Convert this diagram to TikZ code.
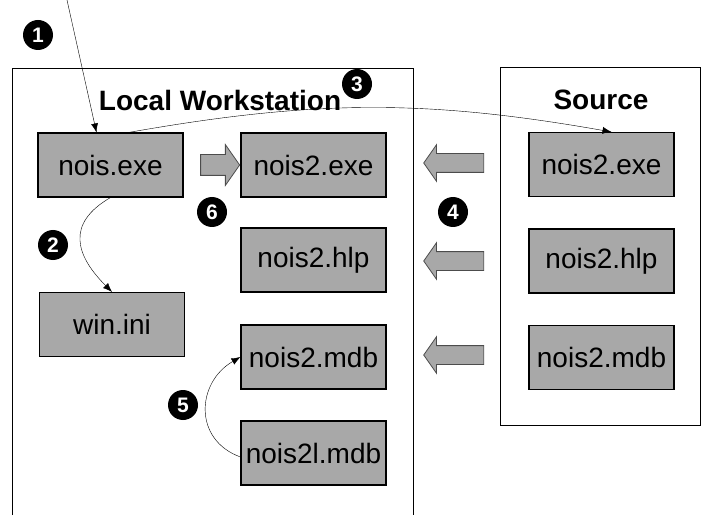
\documentclass[tikz,border=0pt]{standalone}
\usepackage{fontspec}
\setmainfont{Liberation Sans}
\usetikzlibrary{arrows.meta,shapes.arrows}

\begin{document}
\begin{tikzpicture}
        [x=1pt, y=1pt,
        file/.style={rectangle, draw=black, line width=1.1pt, fill=black!34, minimum width=145pt, minimum height=64pt, inner sep=0pt, font=\fontsize{28}{32}\selectfont},
        title/.style={font=\fontsize{28}{32}\selectfont\bfseries},
        num/.style={circle, fill=black, text=white, minimum size=30pt, inner sep=0pt, font=\fontsize{21}{22}\selectfont\bfseries},
        copy/.style={single arrow, draw=black!70, fill=black!34, line width=0.8pt, single arrow tip angle=110, inner xsep=0pt},
        conn/.style={thin, black, -{Latex[length=9pt,width=7pt]}},
        frame/.style={black, line width=0.7pt}]

        \useasboundingbox (0,0) rectangle (707,515);

        % the two machines
        \draw[frame] (12,0) -- (12,447) -- (413,447) -- (413,0);
        \draw[frame] (500,90) rectangle (700,448);
        \node[title] (tlocal) at (220,415) {Local Workstation};
        \node[title] (tsource) at (601,415) {Source};

        % files on the workstation
        \node[file] (lexe) at (110.5,350) {nois.exe};
        \node[file] (l2exe) at (313.5,350) {nois2.exe};
        \node[file] (l2hlp) at (313.5,255) {nois2.hlp};
        \node[file] (lini) at (112,190.5) {win.ini};
        \node[file] (l2mdb) at (313.5,158) {nois2.mdb};
        \node[file] (l2lmdb) at (313.5,62) {nois2l.mdb};

        % files on the source
        \node[file] (s2exe) at (601.5,350.5) {nois2.exe};
        \node[file] (s2hlp) at (601.5,254) {nois2.hlp};
        \node[file] (s2mdb) at (601.5,157.5) {nois2.mdb};

        % copy arrows
        \node[copy, minimum height=39pt, inner ysep=10pt, single arrow head extend=10pt] (c6) at (216.5,350) {};
        \node[copy, shape border rotate=180, minimum height=60pt, inner ysep=9pt, single arrow head extend=9pt] (cexe) at (457,352) {};
        \node[copy, shape border rotate=180, minimum height=60pt, inner ysep=9pt, single arrow head extend=9pt] (chlp) at (457,254) {};
        \node[copy, shape border rotate=180, minimum height=60pt, inner ysep=9pt, single arrow head extend=9pt] (cmdb) at (457,160) {};

        % step numbers
        \node[num] (n1) at (38,480) {1};
        \node[num] (n2) at (53,270) {2};
        \node[num] (n3) at (357,431) {3};
        \node[num] (n4) at (453,303) {4};
        \node[num] (n5) at (183,110) {5};
        \node[num] (n6) at (212,303) {6};

        % connectors
        \coordinate (start) at (67,515);
        \draw[conn] (start) -- ([xshift=-14pt]lexe.north);
        \draw[conn] (lexe.south) to[out=210, in=135, looseness=1.4] (lini.north);
        \draw[conn] ([xshift=18pt]lexe.north) to[out=10, in=170] ([xshift=10pt]s2exe.north);
        \draw[conn] ([yshift=-4pt]l2lmdb.west) to[out=160, in=210, looseness=1.3] (l2mdb.west);

    \end{tikzpicture}
\end{document}
